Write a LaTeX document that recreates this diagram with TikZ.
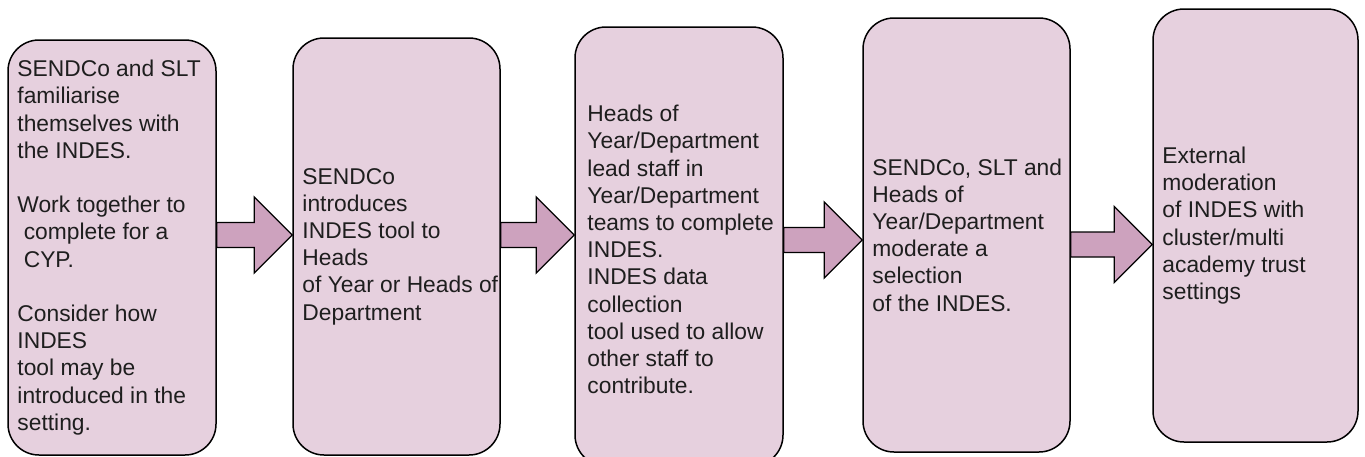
\documentclass[tikz,border=0pt]{standalone}
\usepackage{fontspec}
\setmainfont{Liberation Sans}
\usepackage{xcolor}
\usetikzlibrary{positioning,calc}
\definecolor{boxpink}{HTML}{E6D0DE}
\definecolor{arrowpink}{HTML}{CDA2BE}
\definecolor{txtgray}{HTML}{1E1E1E}

\begin{document}
\begin{tikzpicture}[x=1pt,y=-1pt]%
  \tikzstyle{boxn}=[rectangle,draw=black,line width=1.5pt,fill=boxpink,rounded corners=31pt,inner sep=0]
  \tikzstyle{txtn}=[align=left,inner sep=0,text=txtgray,font=\fontsize{22.8}{27.2}\selectfont]
  \tikzstyle{arrn}=[draw=black,line width=1.3pt,fill=arrowpink,line join=miter]
  \useasboundingbox (0,0) rectangle (1365,456);
  % the five stages
  \node(b1)[boxn,minimum width=208pt,minimum height=415pt] at (112,247.5) {};
  \node(b2)[boxn,minimum width=207pt,minimum height=417pt] at (396.5,246.5) {};
  \node(b3)[boxn,minimum width=208pt,minimum height=439pt] at (679,246.5) {};
  \node(b4)[boxn,minimum width=207pt,minimum height=434pt] at (966.5,235) {};
  \node(b5)[boxn,minimum width=205pt,minimum height=433pt] at (1255.5,225.5) {};
  % block arrows between stages
  \foreach \src/\dst/\lev in {b1/b2/235,b2/b3/235,b3/b4/240,b4/b5/244.5}
    \draw[arrn] let \p1=(\src.east),\p2=(\dst.west),\p3=(0,\lev) in
      (\x1,\y3-12.5pt) -- (\x2-38pt,\y3-12.5pt) -- (\x2-38pt,\y3-38pt) -- (\x2,\y3)
      -- (\x2-38pt,\y3+38pt) -- (\x2-38pt,\y3+12.5pt) -- (\x1,\y3+12.5pt) -- cycle;
  % texts
  \node(t1)[txtn,right=10pt of b1.west]{SENDCo and SLT\\ familiarise\\ themselves with\\ the INDES.\\[27.2pt]
    Work together to\\ \hspace*{.278em}complete for a\\ \hspace*{.278em}CYP.\\[27.2pt]
    Consider how\\ INDES\\ tool may be\\ introduced in the\\ setting.};
  \node(t2)[txtn,right=10pt of b2.west]{SENDCo\\ introduces\\ INDES tool to\\ Heads\\ of Year or Heads of\\ Department};
  \node(t3)[txtn,right=13pt of b3.west,yshift=-3pt]{Heads of\\ Year/Department\\ lead staff in\\ Year/Department\\ teams to complete\\ INDES.\\
    INDES data\\ collection\\ tool used to allow\\ other staff to\\ contribute.};
  \node(t4)[txtn,right=10pt of b4.west]{SENDCo, SLT and\\ Heads of\\ Year/Department\\ moderate a\\ selection\\ of the INDES.};
  \node(t5)[txtn,right=10pt of b5.west]{External\\ moderation\\ of INDES with\\ cluster/multi\\ academy trust\\ settings};
\end{tikzpicture}
\end{document}
